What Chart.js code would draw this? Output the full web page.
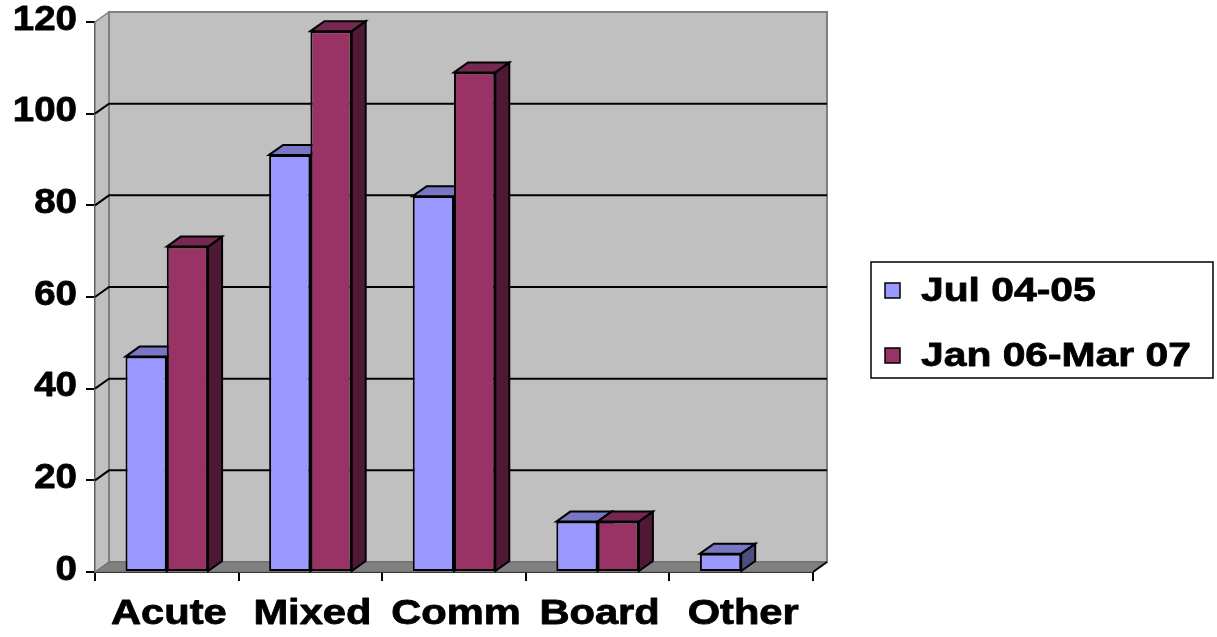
<!DOCTYPE html>
<html>
<head>
<meta charset="utf-8">
<script src="https://cdn.jsdelivr.net/npm/chart.js@4"></script>
<style>
  html, body { margin: 0; padding: 0; background: #fff; }
  #wrap { width: 1217px; height: 637px; position: relative; }
</style>
</head>
<body>
<div id="wrap"><canvas id="grafico"></canvas></div>
<script>
const categorias = ['Acute', 'Mixed', 'Comm', 'Board', 'Other'];
const serieJul = [47, 91, 82, 11, 4];
const serieJan = [71, 118, 109, 11, null];
const nomesSeries = ['Jul 04-05', 'Jan 06-Mar 07'];
const yMax = 120;
const yPasso = 20;

// cores das faces: frente, topo, lado
const cores = [
  { frente: '#9999ff', topo: '#7777c4', lado: '#4d4d82' },
  { frente: '#993366', topo: '#772852', lado: '#4d1935' }
];

const DX = 14, DY = -10;      // profundidade 3D

// texto esticado na horizontal (sx)
function texto(ctx, t, x, y, align, tam, sx) {
  ctx.save();
  ctx.translate(x, y);
  ctx.scale(sx, 1);
  ctx.font = 'bold ' + tam + 'px "Liberation Sans", Arial, sans-serif';
  ctx.fillStyle = '#000';
  ctx.strokeStyle = '#000';
  ctx.lineWidth = 0.8;
  ctx.lineJoin = 'round';
  ctx.textAlign = align;
  ctx.textBaseline = 'middle';
  ctx.fillText(t, 0, 0);
  ctx.strokeText(t, 0, 0);
  ctx.restore();
}

function poligono(ctx, pts, fill, stroke, lw) {
  ctx.beginPath();
  ctx.moveTo(pts[0][0], pts[0][1]);
  for (let i = 1; i < pts.length; i++) ctx.lineTo(pts[i][0], pts[i][1]);
  ctx.closePath();
  if (fill) { ctx.fillStyle = fill; ctx.fill(); }
  if (stroke) { ctx.strokeStyle = stroke; ctx.lineWidth = lw || 1; ctx.stroke(); }
}

const paredes3d = {
  id: 'paredes3d',
  beforeDatasetsDraw(chart) {
    const ctx = chart.ctx;
    const a = chart.chartArea;
    const y = chart.scales.y;
    ctx.save();
    ctx.lineJoin = 'miter';
    // parede lateral, parede do fundo e chão
    poligono(ctx, [[a.left, a.top], [a.left + DX, a.top + DY], [a.left + DX, a.bottom + DY], [a.left, a.bottom]], '#c0c0c0', '#808080', 1.5);
    poligono(ctx, [[a.left + DX, a.top + DY], [a.right + DX, a.top + DY], [a.right + DX, a.bottom + DY], [a.left + DX, a.bottom + DY]], '#c0c0c0', '#808080', 2);
    poligono(ctx, [[a.left, a.bottom], [a.left + DX, a.bottom + DY], [a.right + DX, a.bottom + DY], [a.right, a.bottom]], '#808080', '#6a6a6a', 1);

    // linhas de grade no fundo
    ctx.strokeStyle = '#000';
    ctx.lineWidth = 2;
    for (let v = yPasso; v < yMax; v += yPasso) {
      const py = y.getPixelForValue(v);
      ctx.beginPath();
      ctx.moveTo(a.left, py);
      ctx.lineTo(a.left + DX, py + DY);
      ctx.lineTo(a.right + DX, py + DY);
      ctx.stroke();
    }
    ctx.beginPath();
    ctx.moveTo(a.right, a.bottom);
    ctx.lineTo(a.right + DX, a.bottom + DY);
    ctx.stroke();

    // topo e lado das barras
    chart.data.datasets.forEach((ds, i) => {
      const meta = chart.getDatasetMeta(i);
      meta.data.forEach((bar, j) => {
        if (ds.data[j] == null) return;
        const l = bar.x - bar.width / 2, r = bar.x + bar.width / 2;
        const t = bar.y, b = bar.base;
        poligono(ctx, [[r, t], [r + DX, t + DY], [r + DX, b + DY], [r, b]], cores[i].lado, '#000', 2);
        poligono(ctx, [[l, t], [l + DX, t + DY], [r + DX, t + DY], [r, t]], cores[i].topo, '#000', 2);
      });
    });
    ctx.restore();
  },
  afterDraw(chart) {
    const ctx = chart.ctx;
    const y = chart.scales.y, x = chart.scales.x;
    // rótulos dos eixos
    y.ticks.forEach((tk, i) => {
      texto(ctx, String(tk.value), y.right - 18, y.getPixelForTick(i) - 2, 'right', 35, 1.1);
    });
    x.ticks.forEach((tk, i) => {
      texto(ctx, categorias[i], x.getPixelForTick(i) + 2, chart.chartArea.bottom + 42, 'center', 35, 1.19);
    });

    // legenda com moldura
    ctx.save();
    ctx.strokeStyle = '#000';
    ctx.lineWidth = 1.5;
    ctx.strokeRect(871, 262, 342, 116);
    chart.data.datasets.forEach((ds, i) => {
      const cy = 290 + i * 65;
      ctx.fillStyle = ds.backgroundColor;
      ctx.fillRect(885, cy - 7, 15, 15);
      ctx.strokeRect(885, cy - 7, 15, 15);
      texto(ctx, ds.label, 921, cy + 2, 'left', 34, 1.2);
    });
    ctx.restore();
  }
};

const ctx = document.getElementById('grafico').getContext('2d');
new Chart(ctx, {
  type: 'bar',
  data: {
    labels: categorias,
    datasets: [
      { label: nomesSeries[0], data: serieJul, backgroundColor: cores[0].frente },
      { label: nomesSeries[1], data: serieJan, backgroundColor: cores[1].frente }
    ]
  },
  options: {
    responsive: true,
    maintainAspectRatio: false,
    animation: false,
    layout: { padding: { top: 22, right: 404, left: 0, bottom: 0 } },
    datasets: {
      bar: {
        borderColor: '#000',
        borderWidth: 2,
        borderSkipped: false,
        categoryPercentage: 0.575,
        barPercentage: 1
      }
    },
    plugins: {
      legend: { display: false },
      tooltip: { enabled: false }
    },
    scales: {
      x: {
        ticks: { display: false },
        grid: { drawOnChartArea: false, drawTicks: true, tickLength: 9, color: '#000', lineWidth: 2 },
        border: { display: true, color: '#000', width: 2 },
        afterFit: s => { s.height = 65; }
      },
      y: {
        min: 0,
        max: yMax,
        ticks: { display: false, stepSize: yPasso },
        grid: { drawOnChartArea: false, drawTicks: true, tickLength: 9, color: '#000', lineWidth: 2 },
        border: { display: true, color: '#000', width: 2 },
        afterFit: s => { s.width = 95; }
      }
    }
  },
  plugins: [paredes3d]
});
</script>
</body>
</html>
